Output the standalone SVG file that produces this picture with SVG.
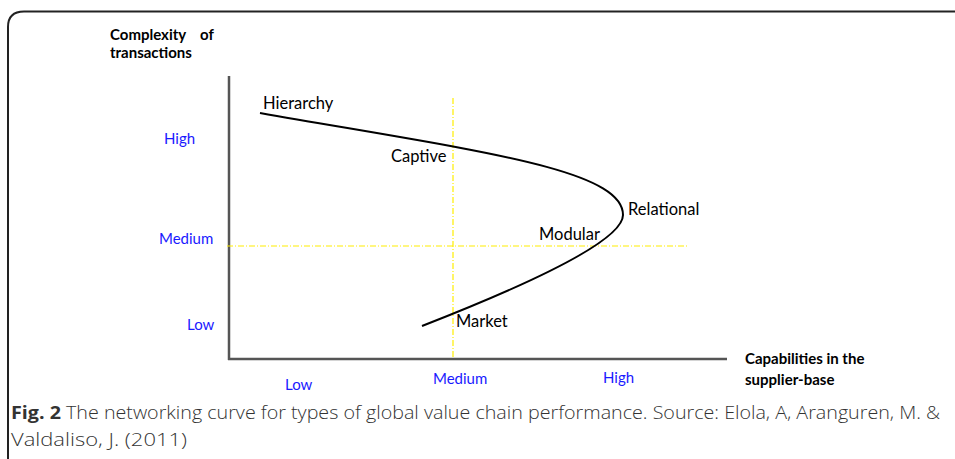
<svg xmlns="http://www.w3.org/2000/svg" width="955" height="459" viewBox="0 0 955 459">
<style>
.lbl{font-family:Lato,"Open Sans",sans-serif;font-size:16.5px;fill:#000}
.ax{font-family:Lato,"Open Sans",sans-serif;font-size:15px;fill:#1a1aff}
.ttl{font-family:Lato,"Open Sans",sans-serif;font-size:15px;font-weight:bold;fill:#000}
.cap{font-family:"Open Sans","Liberation Sans",sans-serif;font-size:18px;font-weight:300;fill:#333}
.axis{stroke:#555;stroke-width:2.5;fill:none}
.guide{stroke:#ffee00;stroke-width:1.2;stroke-dasharray:6,2,1,2;fill:none}
</style>
<rect width="955" height="459" fill="#fff"/>
<path d="M8,459 V27 Q8,11.5 24,11.5 H955" fill="none" stroke="#222" stroke-width="2"/>
<g id="axes">
<line class="axis" x1="229" y1="76" x2="229" y2="360"/>
<line class="axis" x1="228" y1="359" x2="727" y2="359"/>
</g>
<g id="guides">
<line class="guide" x1="453" y1="98" x2="453" y2="359"/>
<line class="guide" x1="227" y1="246" x2="688" y2="246"/>
</g>
<g id="connectors">
<path d="M260,113 C470,150 623,168 623,215 C623,242 522,287 422,326" fill="none" stroke="#000" stroke-width="2"/>
</g>
<g id="y-title">
<text class="ttl" x="110" y="40">Complexity<tspan x="200">of</tspan></text>
<text class="ttl" x="110" y="58">transactions</text>
</g>
<g id="x-title">
<text class="ttl" x="745" y="364">Capabilities in the</text>
<text class="ttl" x="745" y="385">supplier-base</text>
</g>
<g id="y-labels">
<text class="ax" x="164" y="144">High</text>
<text class="ax" x="159" y="244">Medium</text>
<text class="ax" x="187" y="330">Low</text>
</g>
<g id="x-labels">
<text class="ax" x="285" y="390">Low</text>
<text class="ax" x="433" y="384">Medium</text>
<text class="ax" x="603" y="383">High</text>
</g>
<g id="node-hierarchy"><text class="lbl" x="263" y="109">Hierarchy</text></g>
<g id="node-captive"><text class="lbl" x="391" y="162">Captive</text></g>
<g id="node-relational"><text class="lbl" x="628" y="215">Relational</text></g>
<g id="node-modular"><text class="lbl" x="539" y="240">Modular</text></g>
<g id="node-market"><text class="lbl" x="456" y="327">Market</text></g>
<g id="caption">
<text class="cap" x="11" y="419" textLength="929" lengthAdjust="spacingAndGlyphs"><tspan font-weight="bold">Fig. 2</tspan> The networking curve for types of global value chain performance. Source: Elola, A, Aranguren, M. &amp;</text>
<text class="cap" x="11" y="446" textLength="176" lengthAdjust="spacingAndGlyphs">Valdaliso, J. (2011)</text>
</g>
</svg>
